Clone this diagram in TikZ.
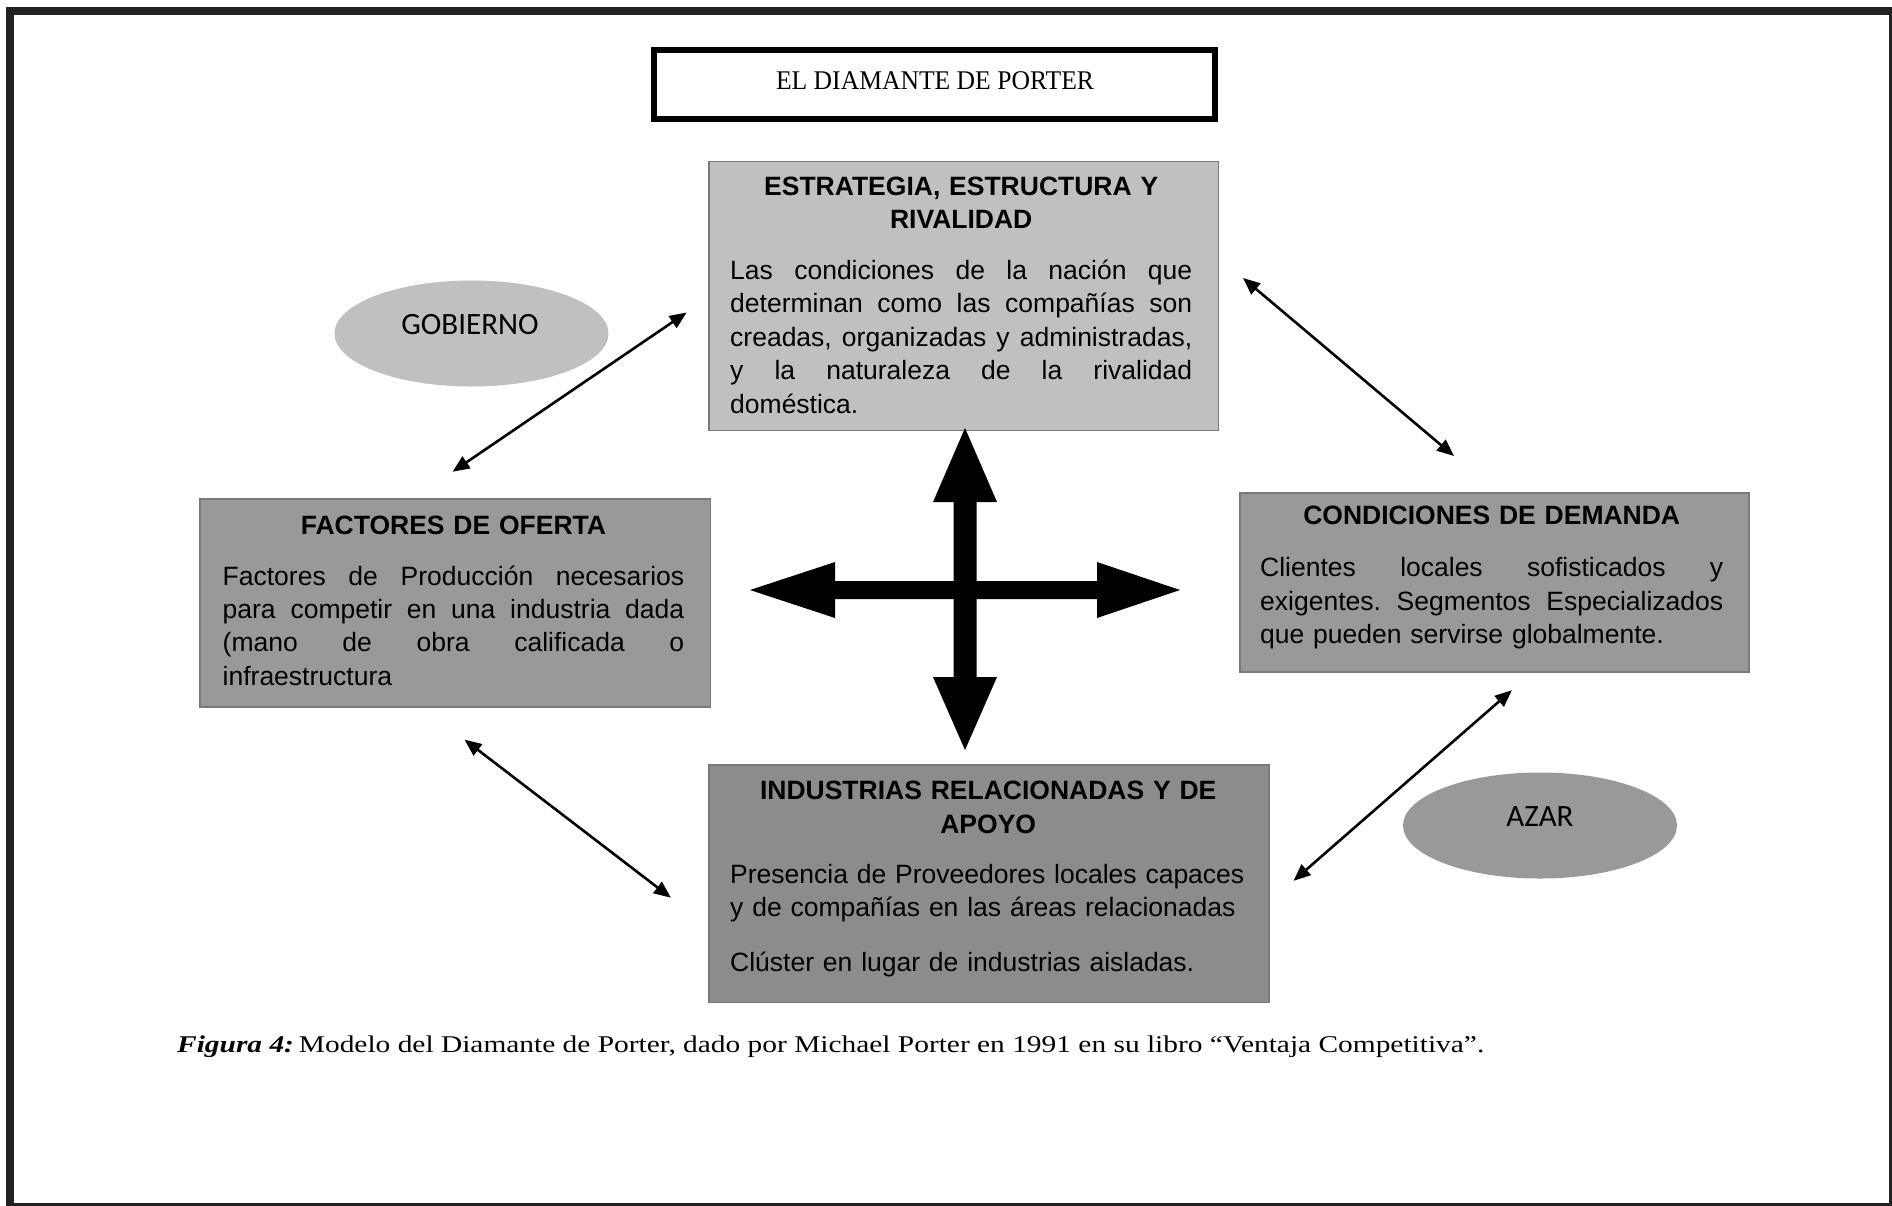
\documentclass[tikz,border=0pt]{standalone}
\usepackage{fontspec}
\usepackage{graphicx}
\setmainfont{Liberation Serif}
\newfontfamily\boxfont{Liberation Sans}
\newfontfamily\ovalfont{Carlito}
\usetikzlibrary{arrows.meta,shapes.geometric}
\setlength{\parskip}{0pt}

% a justified line of the given width; words are separated by \hfill
\newcommand\fillline[2]{\noindent\hbox to #1{#2}\par}

\definecolor{lightbox}{HTML}{C0C0C0}
\definecolor{midbox}{HTML}{999999}
\definecolor{darkbox}{HTML}{8C8C8C}
\definecolor{boxedge}{HTML}{7A7A7A}
\definecolor{frame}{HTML}{222222}

\tikzset{
  factorbox/.style={draw=boxedge, line width=1.5pt, anchor=north west, inner sep=0pt},
  boxtext/.style={anchor=north west, inner sep=0pt, text=black,
    font=\boxfont\frenchspacing\fontsize{26.5}{33.4}\selectfont},
  oval/.style={ellipse, draw=none, inner sep=0pt, minimum width=274pt, minimum height=106pt},
  ovaltext/.style={inner sep=0pt, font=\ovalfont\fontsize{31}{36}\selectfont},
  link/.style={line width=2.6pt, {Triangle[length=17pt,width=14pt]}-{Triangle[length=17pt,width=14pt]}},
}

\begin{document}
\begin{tikzpicture}[x=1pt, y=-1pt]
\useasboundingbox (0,0) rectangle (1892,1205);
\fill[white] (0,0) rectangle (1892,1205);

% page frame
\draw[frame, line width=8pt] (10,11) rectangle (1893,1207);

% title
\draw[black, line width=6pt] (654,50) rectangle (1215,119);
\node[anchor=base, inner sep=0pt] (title) at (935,89)
  {\resizebox{318pt}{\height}{\fontsize{27}{30}\selectfont EL DIAMANTE DE PORTER}};

% the four factor boxes
\node[factorbox, fill=lightbox, minimum width=509.5pt, minimum height=269pt] (estr) at (708,160.5) {};
\node[factorbox, fill=midbox, minimum width=510.5pt, minimum height=208pt] (ofer) at (199,498) {};
\node[factorbox, fill=midbox, minimum width=509pt, minimum height=179pt] (dem) at (1239,492) {};
\node[factorbox, fill=darkbox, minimum width=560pt, minimum height=237.5pt] (ind) at (708,764) {};

\node[boxtext, text width=462pt] (estrT) at (730,171.6) {%
  {\centering\bfseries\strut ESTRATEGIA, ESTRUCTURA Y\\RIVALIDAD\par}%
  \vspace{17.6pt}%
  \fillline{462pt}{Las\hfill condiciones\hfill de\hfill la\hfill nación\hfill que}%
  \fillline{462pt}{determinan\hfill como\hfill las\hfill compañías\hfill son}%
  \fillline{462pt}{creadas,\hfill organizadas\hfill y\hfill administradas,}%
  \fillline{462pt}{y\hfill la\hfill naturaleza\hfill de\hfill la\hfill rivalidad}%
  \noindent doméstica.};

\node[boxtext, text width=461.5pt] (oferT) at (222.5,511.1) {%
  {\centering\bfseries\strut FACTORES DE OFERTA\par}%
  \vspace{17.1pt}%
  \fillline{461.5pt}{Factores\hfill de\hfill Producción\hfill necesarios}%
  \fillline{461.5pt}{para\hfill competir\hfill en\hfill una\hfill industria\hfill dada}%
  \fillline{461.5pt}{(mano\hfill de\hfill obra\hfill calificada\hfill o}%
  \noindent infraestructura};

\node[boxtext, text width=463pt] (demT) at (1260,501.1) {%
  {\centering\bfseries\strut CONDICIONES DE DEMANDA\par}%
  \vspace{18.6pt}%
  \fillline{463pt}{Clientes\hfill locales\hfill sofisticados\hfill y}%
  \fillline{463pt}{exigentes.\hfill Segmentos\hfill Especializados}%
  \noindent que pueden servirse globalmente.};

\node[boxtext, text width=516pt] (indT) at (730,776.1) {%
  {\centering\bfseries\strut INDUSTRIAS RELACIONADAS Y DE\\APOYO\par}%
  \vspace{17.1pt}%
  \noindent Presencia de Proveedores locales capaces\\
  y de compañías en las áreas relacionadas\par
  \vspace{21.2pt}%
  \noindent Clúster en lugar de industrias aisladas.};

% government and chance
\node[oval, fill=lightbox] (gob) at (471.5,333.5) {};
\node[ovaltext] (gobT) at (470,325) {GOBIERNO};
\node[oval, fill=midbox] (azar) at (1540,825.5) {};
\node[ovaltext] (azarT) at (1540,817) {AZAR};

% central four-way arrow
\fill[black] (965,428) -- (997,502) -- (976.5,502) -- (976.5,677) -- (997,677)
  -- (965,750) -- (933,677) -- (953.5,677) -- (953.5,502) -- (933,502) -- cycle;
\fill[black] (750,590) -- (835,562) -- (835,581) -- (1097,581) -- (1097,562)
  -- (1180,590) -- (1097,618) -- (1097,599) -- (835,599) -- (835,618) -- cycle;

% links between the factors
\coordinate (oferNE) at (452.5,471.8);
\coordinate (estrSW) at (686.6,312.5);
\coordinate (estrSE) at (1243,278);
\coordinate (demNW) at (1454,456);
\coordinate (oferSE) at (464.5,739.6);
\coordinate (indW) at (670.9,897.7);
\coordinate (indE) at (1293.5,880.8);
\coordinate (demSW) at (1511.9,690.2);
\draw[link] (oferNE) -- (estrSW);
\draw[link] (estrSE) -- (demNW);
\draw[link] (oferSE) -- (indW);
\draw[link] (indE) -- (demSW);

% caption
\node[anchor=base west, inner sep=0pt] (caption) at (177,1052)
  {\resizebox{1307pt}{\height}{\fontsize{24}{28}\selectfont\textbf{\textit{Figura 4:}}\,Modelo del Diamante de Porter, dado por Michael Porter en 1991 en su libro “Ventaja Competitiva”.}};
\end{tikzpicture}
\end{document}
